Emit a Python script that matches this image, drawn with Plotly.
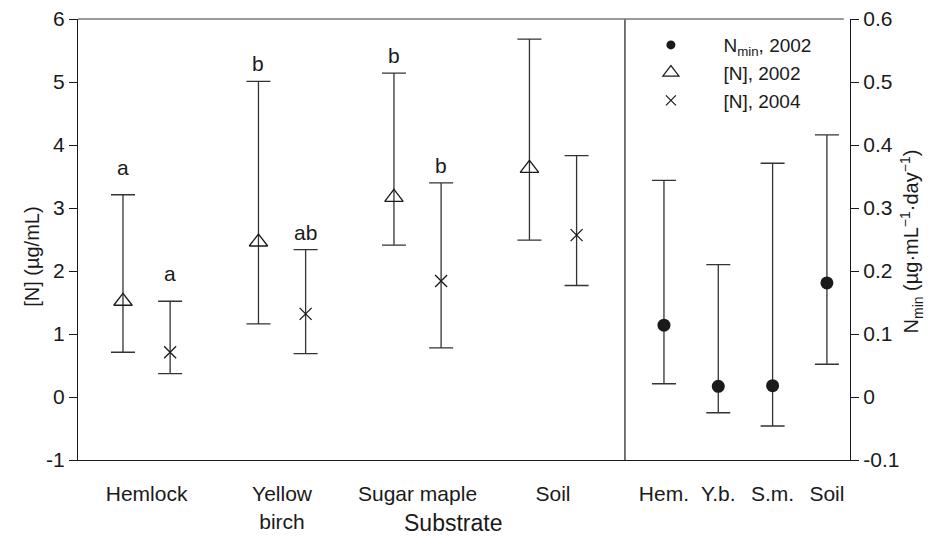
import plotly.graph_objects as go

# ---------------- data ----------------
substrates = ["Hemlock", "Yellow<br>birch", "Sugar maple", "Soil"]
short_names = ["Hem.", "Y.b.", "S.m.", "Soil"]

n2002_mean = [1.52, 2.46, 3.17, 3.63]
n2002_upper = [3.21, 5.01, 5.14, 5.68]
n2002_lower = [0.71, 1.16, 2.41, 2.49]
n2002_letters = ["a", "b", "b", ""]

n2004_mean = [0.71, 1.32, 1.84, 2.57]
n2004_upper = [1.52, 2.34, 3.40, 3.83]
n2004_lower = [0.37, 0.69, 0.78, 1.77]
n2004_letters = ["a", "ab", "b", ""]

nmin_mean = [0.114, 0.017, 0.018, 0.181]
nmin_upper = [0.344, 0.210, 0.371, 0.416]
nmin_lower = [0.021, -0.025, -0.046, 0.052]

left_ticks = [-1, 0, 1, 2, 3, 4, 5, 6]
left_ticktext = ["-1", "0", "1", "2", "3", "4", "5", "6"]
right_ticks = [-0.1, 0, 0.1, 0.2, 0.3, 0.4, 0.5, 0.6]
right_ticktext = ["-0.1", "0", "0.1", "0.2", "0.3", "0.4", "0.5", "0.6"]

# ---------------- styling ----------------
FONT = "Liberation Sans, Arial, Helvetica, sans-serif"
INK = "#1a1a1a"
BAR = "#333333"
OFF = 0.174
DIV = 0.7085

pos = list(range(1, len(substrates) + 1))
pos_right = list(range(1, len(short_names) + 1))


def err(mean, upper, lower):
    return dict(type="data", symmetric=False,
                array=[u - m for u, m in zip(upper, mean)],
                arrayminus=[m - l for m, l in zip(mean, lower)],
                color=BAR, thickness=1.3, width=12)


fig = go.Figure()

fig.add_trace(go.Scatter(
    x=[p - OFF for p in pos], y=n2002_mean, mode="markers",
    name="[N], 2002", showlegend=False,
    marker=dict(symbol="triangle-up-open", size=16, color=INK, line=dict(width=1.3, color=INK)),
    error_y=err(n2002_mean, n2002_upper, n2002_lower),
    xaxis="x", yaxis="y"))

fig.add_trace(go.Scatter(
    x=[p + OFF for p in pos], y=n2004_mean, mode="markers",
    name="[N], 2004", showlegend=False,
    marker=dict(symbol="x-thin-open", size=12, color=INK, line=dict(width=1.3, color=INK)),
    error_y=err(n2004_mean, n2004_upper, n2004_lower),
    xaxis="x", yaxis="y"))

fig.add_trace(go.Scatter(
    x=pos_right, y=nmin_mean, mode="markers",
    name="N<sub>min</sub>, 2002", showlegend=False,
    marker=dict(symbol="circle", size=13, color=INK),
    error_y=err(nmin_mean, nmin_upper, nmin_lower),
    xaxis="x2", yaxis="y2"))

# legend-only entries (no error bars in legend)
fig.add_trace(go.Scatter(x=[None], y=[None], mode="markers", name="N<sub>min</sub>, 2002",
                         marker=dict(symbol="circle", size=9, color=INK), xaxis="x2", yaxis="y2"))
fig.add_trace(go.Scatter(x=[None], y=[None], mode="markers", name="[N], 2002",
                         marker=dict(symbol="triangle-up-open", size=14, color=INK,
                                     line=dict(width=1.2, color=INK)), xaxis="x", yaxis="y"))
fig.add_trace(go.Scatter(x=[None], y=[None], mode="markers", name="[N], 2004",
                         marker=dict(symbol="x-thin-open", size=10, color=INK,
                                     line=dict(width=1.2, color=INK)), xaxis="x", yaxis="y"))

annotations = []
letter_shift = {"a": 14, "ab": 4, "b": 4}
for p, up, let in zip(pos, n2002_upper, n2002_letters):
    if let:
        annotations.append(dict(x=p - OFF, y=up, xref="x", yref="y", text=let, showarrow=False,
                                yanchor="bottom", yshift=letter_shift[let],
                                font=dict(size=21, color=INK, family=FONT)))
for p, up, let in zip(pos, n2004_upper, n2004_letters):
    if let:
        annotations.append(dict(x=p + OFF, y=up, xref="x", yref="y", text=let, showarrow=False,
                                yanchor="bottom", yshift=letter_shift[let],
                                font=dict(size=21, color=INK, family=FONT)))

annotations.append(dict(x=0.486, y=-0.143, xref="paper", yref="paper", text="Substrate",
                        showarrow=False, xanchor="center", yanchor="middle",
                        font=dict(size=23, color=INK, family=FONT)))
annotations.append(dict(x=-0.060, y=0.46, xref="paper", yref="paper", text="[N] (µg/mL)",
                        showarrow=False, textangle=-90, xanchor="center", yanchor="middle",
                        font=dict(size=20, color=INK, family=FONT)))
annotations.append(dict(x=1.08, y=0.495, xref="paper", yref="paper",
                        text="N<sub>min</sub> (µg·mL<sup>−1</sup>·day<sup>−1</sup>)",
                        showarrow=False, textangle=-90, xanchor="center", yanchor="middle",
                        font=dict(size=20, color=INK, family=FONT)))

fig.update_layout(
    width=930, height=537,
    margin=dict(l=78, r=80, t=19, b=77, autoexpand=False),
    paper_bgcolor="white", plot_bgcolor="white",
    font=dict(family=FONT, size=20, color=INK),
    showlegend=True,
    legend=dict(x=0.70, y=0.984, xanchor="left", yanchor="top",
                bgcolor="rgba(0,0,0,0)", itemwidth=95,
                font=dict(size=19, family=FONT, color=INK),
                tracegroupgap=0, traceorder="normal"),
    xaxis=dict(domain=[0, DIV], range=[0.494, 4.531], tickvals=pos, ticktext=substrates,
               showgrid=False, zeroline=False, showline=True, linecolor=INK, linewidth=1.2,
               mirror=False, ticks="outside", ticklen=15, tickcolor="rgba(0,0,0,0)",
               automargin=False, tickfont=dict(size=21, family=FONT, color=INK)),
    xaxis2=dict(domain=[DIV, 1], range=[0.282, 4.425], tickvals=pos_right, ticktext=short_names,
                showgrid=False, zeroline=False, showline=True, linecolor=INK, linewidth=1.2,
                mirror=False, ticks="outside", ticklen=15, tickcolor="rgba(0,0,0,0)",
                automargin=False, tickfont=dict(size=21, family=FONT, color=INK), anchor="y2"),
    yaxis=dict(range=[-1, 6], tickvals=left_ticks, ticktext=left_ticktext, showgrid=False,
               zeroline=False, showline=True, linecolor=INK, linewidth=1.2, ticks="outside",
               ticklen=8, tickcolor=INK, tickwidth=1, automargin=False,
               tickfont=dict(size=21, family=FONT, color=INK), anchor="x"),
    yaxis2=dict(range=[-0.1, 0.6], tickvals=right_ticks, ticktext=right_ticktext,
                showgrid=False, zeroline=False, showline=True, linecolor=INK, linewidth=1.2,
                ticks="outside", ticklen=8, tickcolor=INK, tickwidth=1, side="right",
                automargin=False, tickfont=dict(size=21, family=FONT, color=INK), anchor="x2"),
    annotations=annotations,
    shapes=[dict(type="line", xref="paper", yref="paper", x0=DIV, x1=DIV, y0=0, y1=1,
                 line=dict(color=INK, width=1.2)),
            dict(type="line", xref="paper", yref="paper", x0=0, x1=0.992, y0=1, y1=1,
                 line=dict(color="#777777", width=1.5))],
)

fig.write_html("out.html", config={"displayModeBar": False},
               post_script="document.body.style.margin='0';document.body.style.overflow='hidden';")
